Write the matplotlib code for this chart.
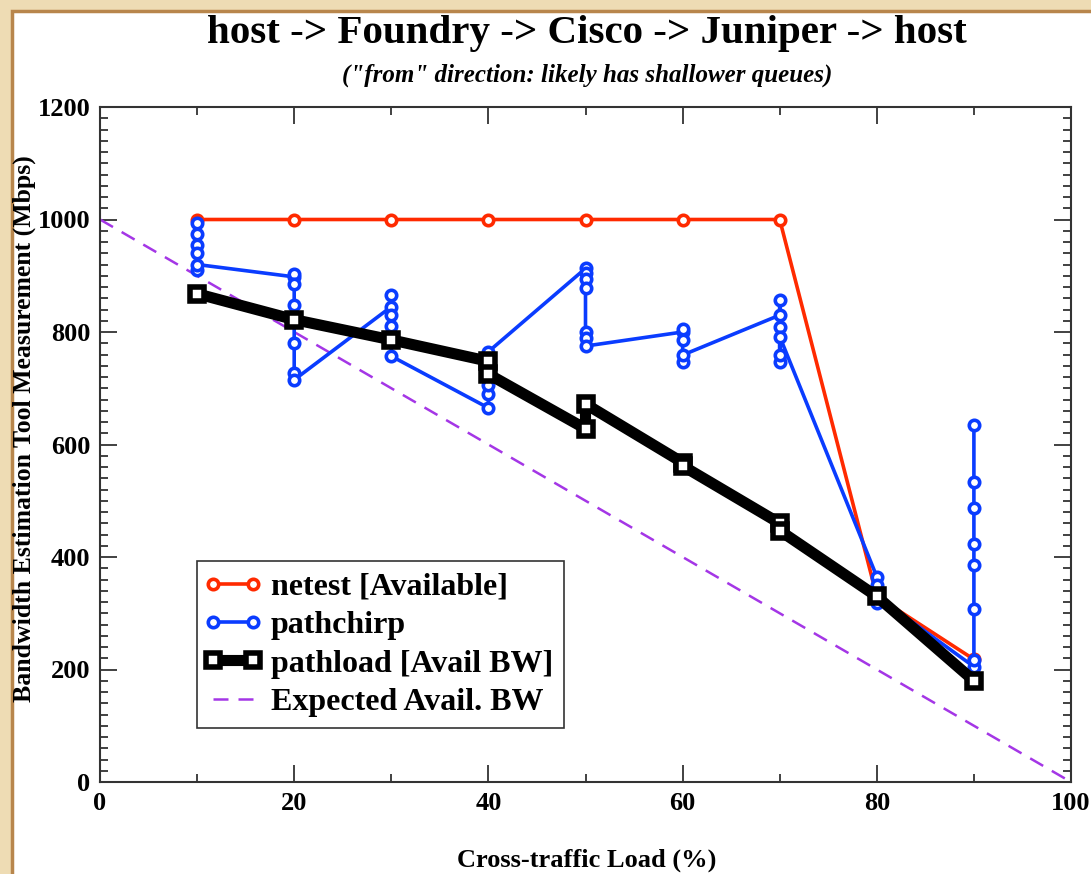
import matplotlib
matplotlib.use("Agg")
import matplotlib.pyplot as plt
from matplotlib.patches import Rectangle
from matplotlib.lines import Line2D
from matplotlib.legend_handler import HandlerLine2D
from matplotlib.ticker import MultipleLocator

# netest [Available]
netest_x = [10, 20, 30, 40, 50, 60, 70, 80, 90]
netest_y = [1000, 1000, 1000, 1000, 1000, 1000, 1000, 330, 218]

# pathchirp: several runs per load, joined in measurement order
chirp_x = [10, 10, 10, 10, 10, 10,
           20, 20, 20, 20, 20, 20, 20,
           30, 30, 30, 30, 30, 30,
           40, 40, 40, 40, 40, 40,
           50, 50, 50, 50, 50, 50, 50,
           60, 60, 60, 60, 60,
           70, 70, 70, 70, 70, 70,
           80, 80, 80, 80,
           90, 90, 90, 90, 90, 90, 90, 90]
chirp_y = [993, 975, 955, 940, 910, 920,
           898, 904, 886, 848, 780, 727, 715,
           845, 865, 830, 810, 790, 757,
           665, 690, 705, 725, 745, 765,
           913, 905, 895, 878, 800, 790, 775,
           800, 806, 786, 747, 759,
           830, 857, 747, 759, 809, 792,
           365, 350, 318, 330,
           205, 217, 307, 386, 424, 487, 534, 635]

# pathload [Avail BW]
pathload_x = [10, 20, 30, 40, 40, 50, 50, 60, 60, 70, 70, 80, 90]
pathload_y = [868, 822, 786, 748, 725, 628, 672, 568, 562, 460, 447, 330, 180]

# expected available bandwidth
expected_x = [0, 100]
expected_y = [1000, 0]

red = "#ff2a00"
blue = "#0a3cff"
purple = "#a436e6"

fig = plt.figure(figsize=(10.91, 8.74), dpi=100)
fig.patch.set_facecolor("#eedcb4")
fig.patches.append(Rectangle((12 / 1091, -0.01), 1.1, 1 - 11 / 874 + 0.01,
                             transform=fig.transFigure, facecolor="white",
                             edgecolor="#b8864c", linewidth=2.5, zorder=-10))

ax = fig.add_axes([100 / 1091, 92 / 874, 971 / 1091, 675 / 874])
ax.set_facecolor("white")

ax.plot(expected_x, expected_y, color=purple, linestyle=(0, (6, 4)), linewidth=1.8,
        label="Expected Avail. BW", zorder=2)
ax.plot(netest_x, netest_y, color=red, linewidth=2.6, marker="o", markersize=7.5,
        markerfacecolor="white", markeredgecolor=red, markeredgewidth=2.6,
        label="netest [Available]", zorder=3)
ax.plot(chirp_x, chirp_y, color=blue, linewidth=2.6, marker="o", markersize=7.5,
        markerfacecolor="white", markeredgecolor=blue, markeredgewidth=2.6,
        label="pathchirp", zorder=4)
ax.plot(pathload_x, pathload_y, color="black", linewidth=8, marker="s", markersize=10,
        markerfacecolor="white", markeredgecolor="black", markeredgewidth=4,
        label="pathload [Avail BW]", zorder=5)

ax.set_xlim(0, 100)
ax.set_ylim(0, 1200)
ax.xaxis.set_major_locator(MultipleLocator(20))
ax.xaxis.set_minor_locator(MultipleLocator(10))
ax.yaxis.set_major_locator(MultipleLocator(200))
ax.yaxis.set_minor_locator(MultipleLocator(20))
ax.tick_params(which="both", direction="in", top=True, right=True, color="#333333")
ax.tick_params(which="major", length=12, width=1.3, pad=7)
ax.tick_params(which="minor", length=6, width=1.3)
for s in ax.spines.values():
    s.set_color("#333333")
    s.set_linewidth(1.5)

tick_font = dict(family="Liberation Serif", weight="bold", size=19)
for lab in ax.get_xticklabels() + ax.get_yticklabels():
    lab.set_fontproperties(tick_font)

fig.text(0.538, 0.962, "host -> Foundry -> Cisco -> Juniper -> host", ha="center", va="center",
         family="Liberation Serif", weight="bold", size=29.5)
fig.text(0.538, 0.914, '("from" direction: likely has shallower queues)', ha="center", va="center",
         family="Liberation Serif", weight="bold", style="italic", size=18)
fig.text(0.538, 0.016, "Cross-traffic Load (%)", ha="center", va="center",
         family="Liberation Serif", weight="bold", size=19)
fig.text(0.022, 0.51, "Bandwidth Estimation Tool Measurement (Mbps)", ha="center", va="center",
         rotation=90, family="Liberation Serif", weight="bold", size=18.5)

handles, labels = ax.get_legend_handles_labels()
order = [1, 2, 3, 0]
leg = ax.legend([handles[i] for i in order], [labels[i] for i in order],
                loc="lower left", bbox_to_anchor=(0.1, 0.08), borderaxespad=0,
                handler_map={Line2D: HandlerLine2D(marker_pad=0.15, numpoints=2)},
                handlelength=1.55, handletextpad=0.4,
                prop=dict(family="Liberation Serif", weight="bold", size=23),
                fancybox=False, framealpha=1, edgecolor="#333333",
                borderpad=0.35, labelspacing=0.28)
leg.get_frame().set_linewidth(1.2)

fig.savefig("out.png", dpi=100, facecolor=fig.get_facecolor())
